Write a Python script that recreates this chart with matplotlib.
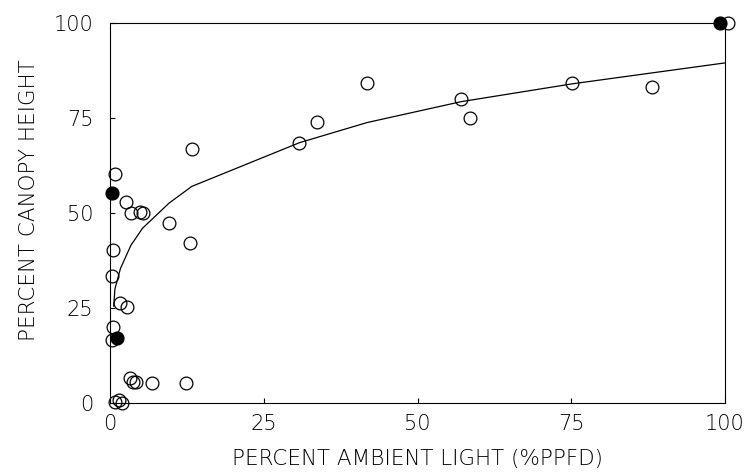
import numpy as np
import matplotlib.pyplot as plt

# open circles (percent ambient light, percent canopy height)
open_x = [0.8, 2.6, 3.4, 4.8, 5.3, 9.6, 13.0, 13.3, 0.5, 0.4, 1.7, 2.7, 0.5, 0.3,
          3.3, 3.7, 4.2, 6.8, 12.4, 0.8, 1.5, 1.9,
          30.8, 33.7, 41.8, 57.1, 58.5, 75.2, 88.2, 100.5]
open_y = [60.3, 52.8, 50.1, 50.3, 50.1, 47.5, 42.2, 66.8, 40.3, 33.4, 26.4, 25.2, 20.1, 16.6,
          6.5, 5.4, 5.4, 5.3, 5.3, 0.2, 0.9, 0.0,
          68.5, 73.9, 84.3, 80.1, 75.0, 84.1, 83.2, 100.0]

# filled circles
fill_x = [0.3, 1.2, 99.2]
fill_y = [55.3, 17.2, 100.0]

# fitted curve
curve_x = [0.6, 0.8, 1.7, 3.4, 5.3, 9.6, 13.3, 30.8, 41.8, 57.1, 75.2, 100.0]
curve_y = [25.5, 30.0, 35.4, 41.5, 46.0, 52.6, 57.0, 68.5, 73.8, 79.3, 84.0, 89.5]

ticks = [0, 25, 50, 75, 100]

plt.rcParams["font.family"] = ["DejaVu Sans"]
plt.rcParams["font.weight"] = "light"

fig = plt.figure(figsize=(7.47, 4.74), dpi=100)
ax = fig.add_axes([110/747, 1 - 403/474, 615/747, 380/474])

ax.plot(curve_x, curve_y, color="black", linewidth=0.9)
ax.plot(open_x, open_y, "o", markersize=9.2, markerfacecolor="none",
        markeredgecolor="black", markeredgewidth=0.9, clip_on=False)
ax.plot(fill_x, fill_y, "o", markersize=9.2, color="black", clip_on=False)

ax.set_xlim(0, 100)
ax.set_ylim(0, 100)
ax.set_xticks(ticks)
ax.set_yticks(ticks)
ax.tick_params(direction="in", length=3.5, width=0.8, labelsize=15,
               top=False, right=False, colors="black")
ax.tick_params(axis="x", pad=8)
ax.tick_params(axis="y", pad=12)
for s in ax.spines.values():
    s.set_linewidth(0.8)

ax.set_xlabel("PERCENT AMBIENT LIGHT (%PPFD)", fontsize=15.5, fontweight="light", labelpad=11)
ax.set_ylabel("PERCENT CANOPY HEIGHT", fontsize=15.5, fontweight="light")
ax.yaxis.set_label_coords(-0.115, 0.535)

fig.savefig("out.png", dpi=100)
